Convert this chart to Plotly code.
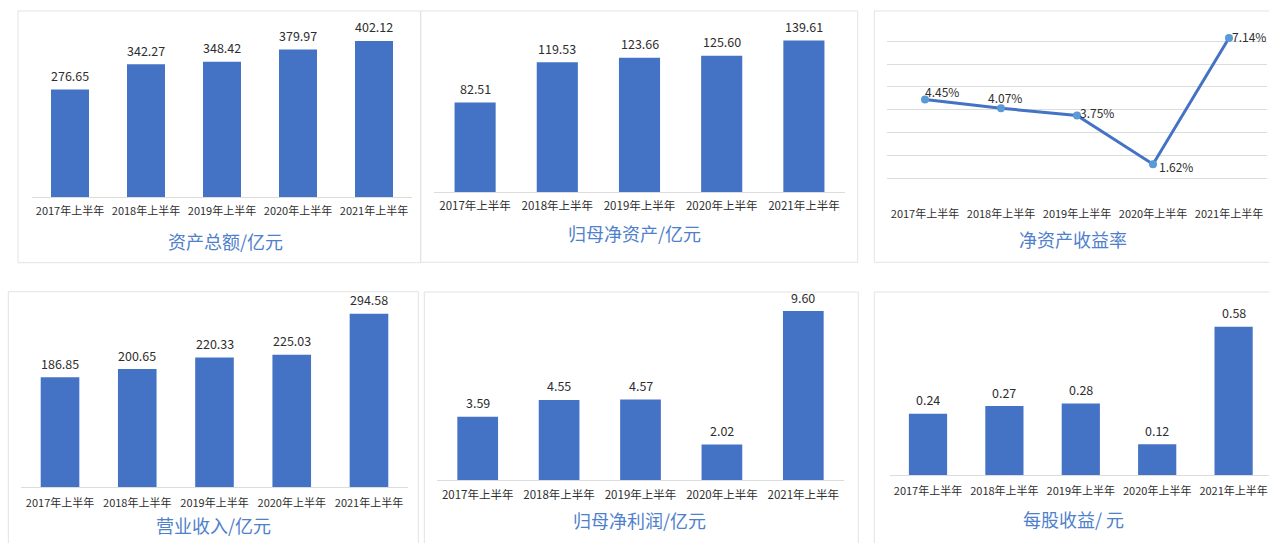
import plotly.graph_objects as go

W, H = 1269, 543

categories = ["2017年上半年", "2018年上半年", "2019年上半年", "2020年上半年", "2021年上半年"]
total_assets = [276.65, 342.27, 348.42, 379.97, 402.12]
net_assets = [82.51, 119.53, 123.66, 125.60, 139.61]
roe = [4.45, 4.07, 3.75, 1.62, 7.14]
revenue = [186.85, 200.65, 220.33, 225.03, 294.58]
net_profit = [3.59, 4.55, 4.57, 2.02, 9.60]
eps = [0.24, 0.27, 0.28, 0.12, 0.58]
titles = ["资产总额/亿元", "归母净资产/亿元", "净资产收益率",
          "营业收入/亿元", "归母净利润/亿元", "每股收益/ 元"]

FONT = "Noto Sans CJK SC, Microsoft YaHei, sans-serif"
BAR = "#4472C4"
TITLE_C = "#4F80CC"
TXT = "#2E2E2E"
GRID = "#DCDCDC"
EDGE = "#E3E3E3"


def px(x):
    return x / W


def py(y):
    return 1 - y / H


# panel layout in target pixels: x-domain, y-domain (top, baseline), y max
panels = [
    dict(x=(32, 412), y=(20, 197), ymax=456, tf=11, tl=4),
    dict(x=(434, 845), y=(20, 192), ymax=158.5, tf=11.5, tl=3),
    dict(x=(887, 1267), y=(18.3, 201.3), ymax=8, tf=11, tl=2),
    dict(x=(21.4, 407.6), y=(300, 487.3), ymax=318, tf=11, tl=5),
    dict(x=(437, 844), y=(300, 480), ymax=10.23, tf=11.5, tl=4),
    dict(x=(889.8, 1271.8), y=(300, 475), ymax=0.685, tf=11, tl=6),
]
# panel frames: (x0, y0, x1, y1); sides beyond the canvas are not drawn
borders = [
    (18, 11, 420.7, 262.7),
    (420.7, 11, 857.7, 262.3),
    (874.3, 11, None, 262.3),
    (8.3, 291.7, 418.3, None),
    (424.3, 292, 858.3, None),
    (874.3, 292, None, None),
]
title_pos = [(225, 241), (635, 233), (1073, 239), (213, 525), (640, 520), (1073, 519)]
# label offsets (px) for the line chart labels
line_lbl_shift = [(17, 8), (4, 11), (20, 3), (23, -2), (20, 1)]

fig = go.Figure()
series = [total_assets, net_assets, roe, revenue, net_profit, eps]

layout = dict(
    width=W, height=H, margin=dict(l=0, r=0, t=0, b=0),
    paper_bgcolor="white", plot_bgcolor="white",
    font=dict(family=FONT, color=TXT), bargap=0.5,
    shapes=[], annotations=[],
)

for i, vals in enumerate(series):
    n = i + 1
    xa = "x" if n == 1 else f"x{n}"
    ya = "y" if n == 1 else f"y{n}"
    if i == 2:
        fig.add_trace(go.Scatter(
            x=categories, y=vals, xaxis=xa, yaxis=ya, mode="lines+markers",
            line=dict(color=BAR, width=3),
            marker=dict(color="#5B9BD5", size=8),
            cliponaxis=False, showlegend=False, hoverinfo="skip",
        ))
        for c, v, (dx, dy) in zip(categories, vals, line_lbl_shift):
            layout["annotations"].append(dict(
                x=c, y=v, xref=xa, yref=ya, text=f"{v:.2f}%", showarrow=False,
                xanchor="center", yanchor="middle", xshift=dx, yshift=dy,
                font=dict(family=FONT, size=12, color=TXT),
            ))
    else:
        fig.add_trace(go.Bar(
            x=categories, y=vals, xaxis=xa, yaxis=ya,
            marker=dict(color=BAR, line=dict(width=0)),
            cliponaxis=False, showlegend=False, hoverinfo="skip",
        ))
        for c, v in zip(categories, vals):
            layout["annotations"].append(dict(
                x=c, y=v, xref=xa, yref=ya, text=f"{v:.2f}", showarrow=False,
                xanchor="center", yanchor="middle", yshift=14,
                font=dict(family=FONT, size=12.5, color=TXT),
            ))

for i, p in enumerate(panels):
    n = i + 1
    xk = "xaxis" if n == 1 else f"xaxis{n}"
    yk = "yaxis" if n == 1 else f"yaxis{n}"
    yref = "y" if n == 1 else f"y{n}"
    left, right = p["x"]
    step = (right - left) / 5.0
    dom_right = min(float(W), right)
    xdict = dict(
        domain=[px(left), px(dom_right)], anchor=yref,
        type="category", showgrid=False, zeroline=False,
        showline=(i != 2), linecolor=GRID, linewidth=1,
        ticks="outside", ticklen=p["tl"], tickcolor="rgba(0,0,0,0)",
        tickfont=dict(family=FONT, size=p["tf"], color=TXT),
        fixedrange=True,
        range=[-0.5, -0.5 + (dom_right - left) / step],
    )
    layout[xk] = xdict
    layout[yk] = dict(
        domain=[py(p["y"][1]), py(p["y"][0])], anchor="x" if n == 1 else f"x{n}",
        range=[0, p["ymax"]], showticklabels=False, zeroline=False,
        showgrid=(i == 2), gridcolor=GRID, gridwidth=1,
        dtick=1 if i == 2 else None, showline=False, fixedrange=True,
    )


def seg(xa0, ya0, xa1, ya1):
    layout["shapes"].append(dict(
        type="line", xref="paper", yref="paper",
        x0=px(xa0), x1=px(xa1), y0=py(ya0), y1=py(ya1),
        line=dict(color=EDGE, width=1), layer="below",
    ))


for (x0, y0, x1, y1) in borders:
    xr = x1 if x1 is not None else W
    yb = y1 if y1 is not None else H
    seg(x0, y0, xr, y0)            # top
    seg(x0, y0, x0, yb)            # left
    if x1 is not None:
        seg(x1, y0, x1, yb)        # right
    if y1 is not None:
        seg(x0, y1, xr, y1)        # bottom

for t, (cx, cy) in zip(titles, title_pos):
    layout["annotations"].append(dict(
        text=t, xref="paper", yref="paper", x=px(cx), y=py(cy),
        xanchor="center", yanchor="middle", showarrow=False,
        font=dict(family=FONT, size=18, color=TITLE_C),
    ))

fig.update_layout(**layout)
# make the figure fill the browser viewport exactly (no body margin, no scrollbars)
post = """
document.documentElement.style.margin='0';
document.documentElement.style.overflow='hidden';
document.body.style.margin='0';
document.body.style.padding='0';
document.body.style.overflow='hidden';
var gd = document.getElementById('{plot_id}');
var vw = window.innerWidth || %d, vh = window.innerHeight || %d;
gd.style.width = vw + 'px'; gd.style.height = vh + 'px';
Plotly.relayout(gd, {width: vw, height: vh});
""" % (W, H)
fig.write_html("out.html", config={"responsive": False, "displayModeBar": False},
               post_script=post)
